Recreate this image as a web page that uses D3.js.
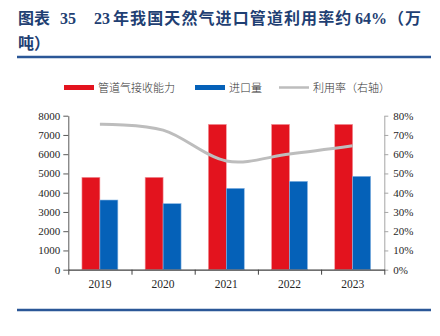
<!DOCTYPE html>
<html><head><meta charset="utf-8">
<script src="https://cdn.jsdelivr.net/npm/d3@7"></script>
<style>
html,body{margin:0;padding:0;background:#fff;}
svg{display:block;}
</style></head>
<body>
<svg id="c" width="440" height="336"></svg>
<script>
const years = ["2019","2020","2021","2022","2023"];
const capacity = [4800, 4800, 7550, 7550, 7550];
const imports = [3620, 3430, 4225, 4590, 4850];
const utilization = [75.5, 72.5, 56.5, 60.1, 64.4];
const leftTicks = [0,1000,2000,3000,4000,5000,6000,7000,8000];
const rightTicks = [0,10,20,30,40,50,60,70,80];
const seriesNames = ["管道气接收能力","进口量","利用率（右轴）"];
const titleLine1 = ["图表","35","23","年我国天然气进口管道利用率约","64%","（万"];
const titleLine2 = "吨）";

const svg = d3.select("#c");
const titleColor = "#1F3F73";
const serif = "'Liberation Serif','Times New Roman',serif";
const cjk = "'Liberation Serif','Noto Sans CJK SC',sans-serif";

// Title
const t1 = svg.append("text").attr("y", 24).attr("font-size", 16).attr("font-weight", "bold")
  .attr("fill", titleColor).attr("font-family", cjk);
const t1x = [18, 60, 94, 113, 355, 388];
titleLine1.forEach((s, i) => {
  t1.append("tspan").attr("x", t1x[i]).attr("letter-spacing", i===3 ? 1.1 : (i===5?1:0)).text(s);
});
svg.append("text").attr("x", 18).attr("y", 49).attr("font-size", 16).attr("font-weight", "bold")
  .attr("fill", titleColor).attr("font-family", cjk).text(titleLine2);
svg.append("line").attr("x1", 17).attr("x2", 431).attr("y1", 57).attr("y2", 57)
  .attr("stroke", "#2B5797").attr("stroke-width", 2.5);
svg.append("line").attr("x1", 17).attr("x2", 431).attr("y1", 310).attr("y2", 310)
  .attr("stroke", "#2B5797").attr("stroke-width", 2.5);

// Scales
const plot = {left: 68.3, right: 384.3, top: 115.7, bottom: 269.7};
const x = d3.scaleBand().domain(years).range([plot.left, plot.right]).padding(0);
const x1 = d3.scaleBand().domain(["cap","imp"]).range([0, x.bandwidth()]).paddingOuter(0.76).paddingInner(0);
const yL = d3.scaleLinear().domain([0, 8000]).range([plot.bottom, plot.top]);
const yR = d3.scaleLinear().domain([0, 80]).range([plot.bottom, plot.top]);

const colors = {cap: "#E3131E", imp: "#0561B8", line: "#BDBDBD"};
const strokes = {cap: "#F29AA0", imp: "#86B4E3"};

// Bars
const rows = years.map((y, i) => ({year: y, cap: capacity[i], imp: imports[i]}));
const g = svg.append("g");
rows.forEach(r => {
  ["cap","imp"].forEach(k => {
    g.append("rect")
      .attr("x", x(r.year) + x1(k))
      .attr("y", yL(r[k]))
      .attr("width", x1.bandwidth())
      .attr("height", yL(0) - yL(r[k]))
      .attr("fill", colors[k])
      .attr("stroke", strokes[k]).attr("stroke-width", 0.6);
  });
});

// Line
const line = d3.line()
  .x((d, i) => x(years[i]) + x.bandwidth() / 2)
  .y(d => yR(d))
  .curve(d3.curveCardinal.tension(0));
svg.append("path").datum(utilization).attr("d", line)
  .attr("fill", "none").attr("stroke", colors.line).attr("stroke-width", 3);

// Left axis
const axL = svg.append("g").attr("transform", `translate(${plot.left},0)`)
  .call(d3.axisLeft(yL).tickValues(leftTicks).tickSize(5).tickSizeOuter(0).tickPadding(3).tickFormat(d3.format("d")));
axL.select(".domain").attr("stroke", "#595959");
axL.selectAll(".tick line").attr("stroke", "#595959");
axL.selectAll("text").attr("font-family", serif).attr("font-size", 11).attr("fill", "#262626");

// Right axis
const axR = svg.append("g").attr("transform", `translate(${plot.right},0)`)
  .call(d3.axisRight(yR).tickValues(rightTicks).tickSize(4).tickSizeOuter(0).tickPadding(5).tickFormat(d => d + "%"));
axR.select(".domain").attr("stroke", "#A6A6A6");
axR.selectAll(".tick line").attr("stroke", "#A6A6A6");
axR.selectAll("text").attr("font-family", serif).attr("font-size", 11).attr("fill", "#262626");

// Bottom axis: ticks at band boundaries, labels at centers
const xb = d3.scaleLinear().domain([0, years.length]).range([plot.left, plot.right]);
const axB = svg.append("g").attr("transform", `translate(0,${plot.bottom})`)
  .call(d3.axisBottom(xb).tickValues(d3.range(years.length + 1)).tickSize(5).tickSizeOuter(0).tickFormat(""));
axB.select(".domain").attr("stroke", "#404040").attr("stroke-width", 1.2);
axB.selectAll(".tick line").attr("stroke", "#404040");
const axB2 = svg.append("g").attr("transform", `translate(0,${plot.bottom})`)
  .call(d3.axisBottom(x).tickSize(0).tickPadding(10));
axB2.select(".domain").remove();
axB2.selectAll("text").attr("font-family", serif).attr("font-size", 11.5).attr("fill", "#262626");

// Legend
const legend = [
  {name: seriesNames[0], type: "rect", color: colors.cap, x: 64, tx: 98},
  {name: seriesNames[1], type: "rect", color: colors.imp, x: 195, tx: 229},
  {name: seriesNames[2], type: "line", color: colors.line, x: 279, tx: 313}
];
legend.forEach(l => {
  if (l.type === "rect") {
    svg.append("rect").attr("x", l.x).attr("y", 85).attr("width", 30).attr("height", 5).attr("fill", l.color);
  } else {
    svg.append("line").attr("x1", l.x).attr("x2", l.x + 30).attr("y1", 87.5).attr("y2", 87.5)
      .attr("stroke", l.color).attr("stroke-width", 2.5);
  }
  svg.append("text").attr("x", l.tx).attr("y", 91.5).attr("font-size", 11)
    .attr("font-family", "'Noto Sans CJK SC',sans-serif").attr("font-weight", 300)
    .attr("fill", "#333333").text(l.name);
});
</script>
</body></html>
